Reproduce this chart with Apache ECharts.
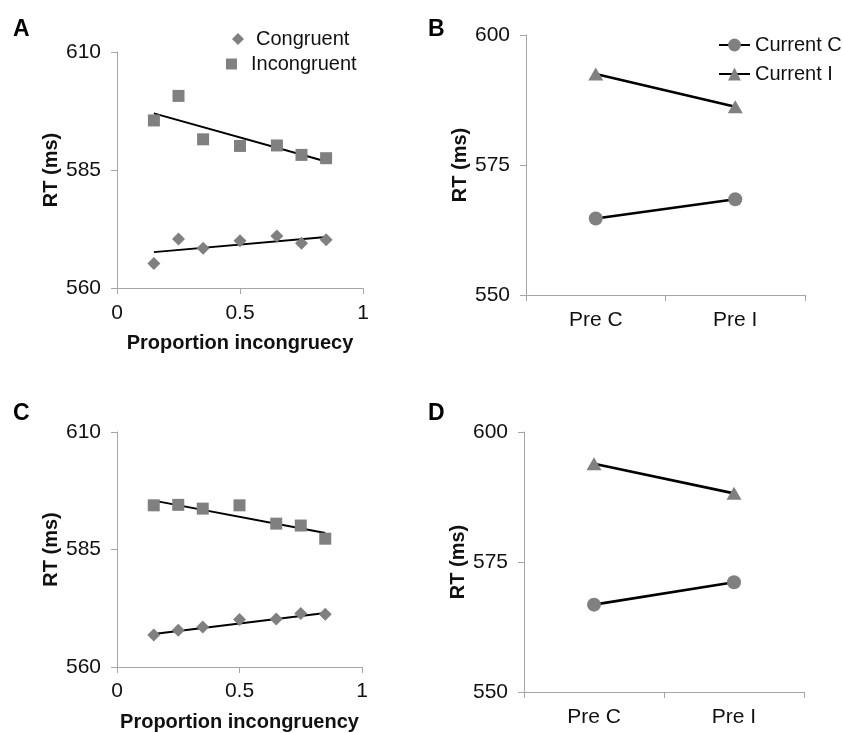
<!DOCTYPE html>
<html>
<head>
<meta charset="utf-8">
<script src="https://cdn.jsdelivr.net/npm/echarts@6/dist/echarts.min.js"></script>
<style>
  html, body { margin: 0; padding: 0; background: #fff; }
  #chart { width: 843px; height: 733px; }
</style>
</head>
<body>
<div id="chart"></div>
<script>
// proportion incongruency levels (panels A, C)
const proportions = [0.15, 0.25, 0.35, 0.5, 0.65, 0.75, 0.85]
const congruentA = [565.2, 570.4, 568.4, 570.0, 571.0, 569.5, 570.2]
const incongruentA = [595.5, 600.7, 591.5, 590.1, 590.2, 588.2, 587.5]
const congruentC = [566.8, 567.8, 568.5, 570.1, 570.2, 571.4, 571.2]
const incongruentC = [594.4, 594.5, 593.7, 594.4, 590.5, 590.1, 587.3]

// fitted trend line end points
const trendX = [0.15, 0.85]
const trendCongA = [567.6, 570.8]
const trendIncA = [597.0, 586.8]
const trendCongC = [567.0, 571.5]
const trendIncC = [595.4, 588.5]

// previous trial type (panels B, D)
const prevTrial = ['Pre C', 'Pre I']
const currentCB = [564.7, 568.4]
const currentIB = [592.5, 586.2]
const currentCD = [566.8, 571.1]
const currentID = [593.9, 588.2]

const ticksAC = [560, 585, 610]
const ticksBD = [550, 575, 600]

const FONT = '"Liberation Sans", Arial, sans-serif'
const GRAY = '#808080'
const AXIS = '#a6a6a6'
const TXT = '#111'

const zip = (xs, ys) => xs.map((x, i) => [x, ys[i]])

const propAxis = (gridIndex, name, margin) => ({
  type: 'value', gridIndex, min: 0, max: 1, interval: 0.5,
  name, nameLocation: 'middle', nameGap: 45,
  nameTextStyle: { fontFamily: FONT, fontSize: 20, fontWeight: 'bold', color: TXT },
  axisLine: { show: true, lineStyle: { color: AXIS, width: 1 } },
  axisTick: { show: true, length: 6, lineStyle: { color: AXIS } },
  axisLabel: { fontFamily: FONT, fontSize: 21, color: TXT, margin },
  splitLine: { show: false }
})

const catAxis = (gridIndex) => ({
  type: 'category', gridIndex, data: prevTrial,
  axisLine: { show: true, lineStyle: { color: AXIS, width: 1 } },
  axisTick: { show: true, length: 6, lineStyle: { color: AXIS } },
  axisLabel: { fontFamily: FONT, fontSize: 21, color: TXT, margin: 15 }
})

const rtAxis = (gridIndex, ticks) => ({
  type: 'value', gridIndex, min: ticks[0], max: ticks[2], interval: ticks[1] - ticks[0],
  name: 'RT (ms)', nameLocation: 'middle', nameGap: 56,
  nameTextStyle: { fontFamily: FONT, fontSize: 20, fontWeight: 'bold', color: TXT },
  axisLine: { show: true, lineStyle: { color: AXIS, width: 1 } },
  axisTick: { show: true, length: 6, lineStyle: { color: AXIS } },
  axisLabel: { fontFamily: FONT, fontSize: 21, color: TXT, margin: 16 },
  splitLine: { show: false }
})

const scatter = (name, idx, data, symbol, size) => ({
  name, type: 'scatter', xAxisIndex: idx, yAxisIndex: idx,
  data, symbol, symbolSize: size,
  itemStyle: { color: GRAY, opacity: 1 }, z: 3
})

const trend = (idx, data) => ({
  type: 'line', xAxisIndex: idx, yAxisIndex: idx, data,
  showSymbol: false, symbol: 'none',
  lineStyle: { color: '#000', width: 2 }, z: 2, silent: true
})

const profile = (name, idx, data, symbol, size) => ({
  name, type: 'line', xAxisIndex: idx, yAxisIndex: idx, data,
  symbol, symbolSize: size,
  itemStyle: { color: GRAY },
  lineStyle: { color: '#000', width: 2.6 }
})

const panelLabel = (text, left, top) => ({
  text, left, top,
  textStyle: { fontFamily: FONT, fontSize: 23, fontWeight: 'bold', color: '#000' }
})

const legendText = (pad) => ({ fontFamily: FONT, fontSize: 20, color: TXT, padding: [0, 0, 0, pad] })

const chart = echarts.init(document.getElementById('chart'), null, { renderer: 'canvas' })

chart.setOption({
  backgroundColor: '#fff',
  animation: false,
  title: [
    panelLabel('A', 8, 13),
    panelLabel('B', 423, 13),
    panelLabel('C', 8, 397),
    panelLabel('D', 423, 397)
  ],
  legend: [
    { data: ['Congruent'], left: 232, top: 29, padding: 0, itemWidth: 12, itemHeight: 12,
      textStyle: legendText(7), selectedMode: false },
    { data: ['Incongruent'], left: 226, top: 54, padding: 0, itemWidth: 11, itemHeight: 11,
      textStyle: legendText(9), selectedMode: false },
    { data: ['Current C', 'Current I'], orient: 'vertical', left: 718, top: 35, padding: 0,
      itemWidth: 31, itemHeight: 16, itemGap: 9, textStyle: legendText(0), selectedMode: false }
  ],
  grid: [
    { left: 117, top: 52, width: 246, height: 236 },
    { left: 526, top: 35, width: 279, height: 260 },
    { left: 117, top: 432, width: 245, height: 235 },
    { left: 524, top: 432, width: 280, height: 260 }
  ],
  xAxis: [
    propAxis(0, 'Proportion incongruecy', 15),
    catAxis(1),
    propAxis(2, 'Proportion incongruency', 14),
    catAxis(3)
  ],
  yAxis: [
    rtAxis(0, ticksAC),
    rtAxis(1, ticksBD),
    rtAxis(2, ticksAC),
    rtAxis(3, ticksBD)
  ],
  series: [
    trend(0, zip(trendX, trendIncA)),
    trend(0, zip(trendX, trendCongA)),
    scatter('Congruent', 0, zip(proportions, congruentA), 'diamond', 13),
    scatter('Incongruent', 0, zip(proportions, incongruentA), 'rect', 12),
    profile('Current C', 1, currentCB, 'circle', 14),
    profile('Current I', 1, currentIB, 'triangle', [15, 13]),
    trend(2, zip(trendX, trendIncC)),
    trend(2, zip(trendX, trendCongC)),
    scatter('Congruent', 2, zip(proportions, congruentC), 'diamond', 13),
    scatter('Incongruent', 2, zip(proportions, incongruentC), 'rect', 12),
    profile('Current C', 3, currentCD, 'circle', 14),
    profile('Current I', 3, currentID, 'triangle', [15, 13])
  ]
})
</script>
</body>
</html>
